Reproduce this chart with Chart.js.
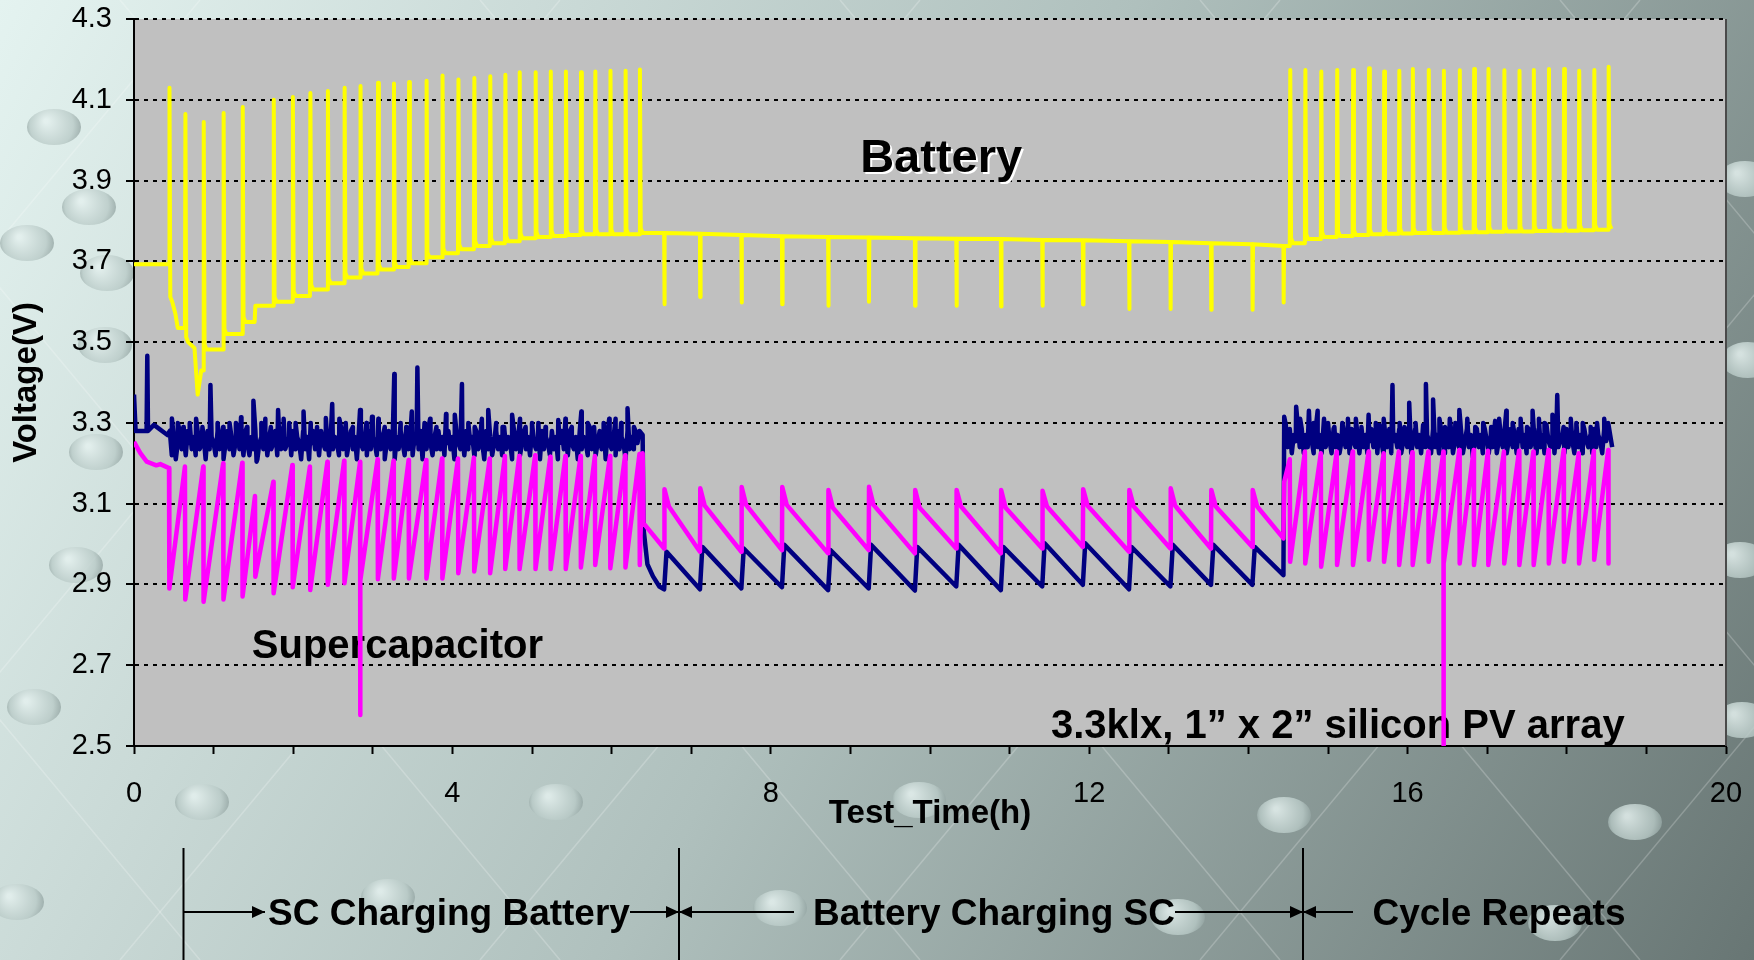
<!DOCTYPE html>
<html>
<head>
<meta charset="utf-8">
<title>Battery / supercapacitor voltage</title>
<script src="https://cdn.jsdelivr.net/npm/chart.js@4.4.1/dist/chart.umd.min.js"></script>
<style>
  html, body { margin: 0; padding: 0; background: #9aaaa8; overflow: hidden; }
  #wrap { width: 1754px; height: 960px; }
</style>
</head>
<body>
<div id="wrap"><canvas id="voltageChart" width="1754" height="960"></canvas></div>
<script>
// ---- axes
const xTickValues = [0, 1, 2, 3, 4, 5, 6, 7, 8, 9, 10, 11, 12, 13, 14, 15, 16, 17, 18, 19, 20];
const xLabelValues = [0, 4, 8, 12, 16, 20];
const yTickValues = [2.5, 2.7, 2.9, 3.1, 3.3, 3.5, 3.7, 3.9, 4.1, 4.3];

// ---- Battery (yellow)
const battStart = 3.693;
// phase 1: SC charging battery (pulses up)
const chgTimes1 = [0.44, 0.64, 0.87, 1.12, 1.36, 1.75, 1.99, 2.21, 2.43, 2.64, 2.84, 3.06, 3.26, 3.45, 3.67, 3.87, 4.07, 4.27, 4.47, 4.66, 4.84, 5.04, 5.23, 5.42, 5.61, 5.79, 5.98, 6.17, 6.35];
const battPeak1 = [4.13, 4.065, 4.045, 4.067, 4.082, 4.10, 4.107, 4.117, 4.122, 4.13, 4.134, 4.142, 4.14, 4.144, 4.147, 4.16, 4.15, 4.154, 4.158, 4.162, 4.168, 4.168, 4.17, 4.17, 4.168, 4.17, 4.172, 4.172, 4.175];
const battBase1 = [3.60, 3.50, 3.482, 3.52, 3.55, 3.60, 3.614, 3.63, 3.646, 3.66, 3.67, 3.68, 3.686, 3.695, 3.71, 3.72, 3.73, 3.738, 3.745, 3.75, 3.757, 3.76, 3.763, 3.765, 3.767, 3.767, 3.767, 3.767, 3.77];
const battExtra1 = [[0.52, 3.57], [0.55, 3.535], [0.76, 3.485], [0.80, 3.37], [0.845, 3.43], [1.515, 3.55], [1.525, 3.59]];
// phase 2: battery charging SC (pulses down)
const dchTimes = [6.66, 7.11, 7.63, 8.14, 8.72, 9.23, 9.81, 10.33, 10.89, 11.41, 11.92, 12.50, 13.02, 13.53, 14.05, 14.44];
const battLevel2 = [3.770, 3.768, 3.765, 3.762, 3.760, 3.759, 3.757, 3.756, 3.755, 3.753, 3.752, 3.750, 3.748, 3.745, 3.742, 3.738];
const battDip2 = [3.594, 3.612, 3.598, 3.594, 3.590, 3.600, 3.590, 3.590, 3.588, 3.590, 3.593, 3.582, 3.582, 3.580, 3.580, 3.598];
// phase 3: cycle repeats
const chgTimes3 = [14.52, 14.71, 14.91, 15.11, 15.31, 15.51, 15.70, 15.89, 16.06, 16.26, 16.45, 16.65, 16.83, 17.01, 17.21, 17.40, 17.58, 17.77, 17.96, 18.15, 18.34, 18.52];
const battPeak3 = [4.174, 4.174, 4.170, 4.174, 4.174, 4.178, 4.170, 4.172, 4.176, 4.174, 4.172, 4.173, 4.176, 4.176, 4.173, 4.172, 4.174, 4.176, 4.176, 4.172, 4.174, 4.182];
const battBase3 = [3.745, 3.755, 3.760, 3.763, 3.765, 3.767, 3.768, 3.769, 3.770, 3.770, 3.771, 3.772, 3.772, 3.773, 3.774, 3.774, 3.775, 3.776, 3.776, 3.777, 3.778, 3.780];
const battEnd = 18.56;

// ---- Supercapacitor, upper trace (navy)
const scHighStart = [[0, 3.37], [0.02, 3.28], [0.10, 3.28], [0.158, 3.28], [0.167, 3.466], [0.176, 3.28], [0.25, 3.295], [0.42, 3.27]];
const noiseStep = 0.025;
const scHighNoiseStart1 = 0.45;
const scHighNoise1 = [
  3.28, 3.22, 3.265, 3.21, 3.25, 3.28, 3.235, 3.265, 3.22, 3.28, 3.25, 3.235, 3.265, 3.22, 3.28, 3.235, 3.25, 3.265, 3.21, 3.28,
  3.235, 3.265, 3.25, 3.22, 3.28, 3.235, 3.265, 3.21, 3.25, 3.28, 3.235, 3.265, 3.22, 3.25, 3.29, 3.235, 3.265, 3.22, 3.28, 3.25,
  3.22, 3.265, 3.235, 3.28, 3.21, 3.25, 3.265, 3.235, 3.28, 3.22, 3.265, 3.235, 3.25, 3.28, 3.22, 3.265, 3.235, 3.29, 3.235, 3.25,
  3.265, 3.22, 3.28, 3.235, 3.265, 3.25, 3.21, 3.28, 3.235, 3.265, 3.21, 3.25, 3.28, 3.235, 3.265, 3.22, 3.28, 3.25, 3.235, 3.265,
  3.22, 3.28, 3.235, 3.265, 3.25, 3.22, 3.29, 3.235, 3.265, 3.22, 3.25, 3.28, 3.235, 3.265, 3.21, 3.28, 3.25, 3.235, 3.265, 3.22,
  3.28, 3.235, 3.265, 3.25, 3.22, 3.28, 3.235, 3.265, 3.21, 3.25, 3.28, 3.235, 3.265, 3.21, 3.265, 3.235, 3.28, 3.25, 3.22, 3.265,
  3.235, 3.28, 3.22, 3.265, 3.25, 3.235, 3.28, 3.21, 3.265, 3.235, 3.29, 3.25, 3.22, 3.265, 3.235, 3.28, 3.235, 3.265, 3.22, 3.25,
  3.28, 3.235, 3.265, 3.21, 3.28, 3.25, 3.235, 3.265, 3.22, 3.28, 3.235, 3.25, 3.265, 3.22, 3.28, 3.235, 3.265, 3.25, 3.21, 3.28,
  3.235, 3.265, 3.22, 3.25, 3.28, 3.235, 3.265, 3.22, 3.29, 3.235, 3.265, 3.25, 3.21, 3.28, 3.235, 3.265, 3.22, 3.25, 3.28, 3.235,
  3.265, 3.22, 3.28, 3.25, 3.235, 3.265, 3.21, 3.28, 3.235, 3.265, 3.25, 3.22, 3.28, 3.235, 3.265, 3.21, 3.25, 3.28, 3.235, 3.265,
  3.22, 3.28, 3.25, 3.235, 3.265, 3.21, 3.28, 3.235, 3.265, 3.25, 3.22, 3.29, 3.235, 3.265, 3.22, 3.25, 3.28, 3.235, 3.265, 3.21,
  3.28, 3.25, 3.235, 3.265, 3.22, 3.28, 3.235, 3.265, 3.25, 3.21, 3.28, 3.235, 3.265, 3.235, 3.28, 3.25, 3.28
];
const scHighSpikes1 = [[0.476, 3.311], [0.55, 3.30], [0.62, 3.29], [0.70, 3.30], [0.78, 3.31], [0.86, 3.29], [0.96, 3.394],
  [1.05, 3.30], [1.12, 3.29], [1.20, 3.30], [1.28, 3.30], [1.345, 3.314], [1.42, 3.29], [1.50, 3.355], [1.54, 3.204],
  [1.60, 3.30], [1.65, 3.31], [1.72, 3.29], [1.81, 3.332], [1.88, 3.31], [1.95, 3.30], [2.03, 3.30], [2.13, 3.328],
  [2.22, 3.30], [2.30, 3.29], [2.41, 3.312], [2.49, 3.347], [2.58, 3.31], [2.66, 3.30], [2.75, 3.29], [2.84, 3.332],
  [2.92, 3.30], [2.99, 3.315], [3.07, 3.31], [3.15, 3.29], [3.27, 3.421], [3.35, 3.30], [3.42, 3.29], [3.49, 3.328],
  [3.56, 3.437], [3.65, 3.30], [3.72, 3.31], [3.80, 3.29], [3.92, 3.322], [4.03, 3.32], [4.12, 3.396], [4.20, 3.30],
  [4.28, 3.29], [4.37, 3.31], [4.45, 3.332], [4.55, 3.30], [4.63, 3.29], [4.75, 3.32], [4.85, 3.31], [4.92, 3.29],
  [5.0, 3.30], [5.08, 3.30], [5.17, 3.29], [5.33, 3.307], [5.42, 3.31], [5.50, 3.29], [5.62, 3.328], [5.70, 3.30],
  [5.78, 3.29], [5.9, 3.30], [5.97, 3.31], [6.05, 3.31], [6.12, 3.30], [6.20, 3.336], [6.28, 3.29]];
const scHighDrop = [[6.39, 3.27], [6.40, 3.04], [6.45, 2.95], [6.52, 2.92], [6.60, 2.895]];
const scHighPeak2 = [2.981, 2.993, 2.989, 2.998, 2.985, 2.998, 2.993, 2.998, 2.993, 3.002, 3.002, 2.993, 2.998, 2.998, 2.993];
const scHighTrough2 = [2.888, 2.888, 2.890, 2.893, 2.886, 2.890, 2.885, 2.895, 2.886, 2.895, 2.899, 2.888, 2.895, 2.899, 2.899, 2.923];
const scHighRecover = [14.45, 3.315];
const scHighNoiseStart3 = 14.47;
const scHighNoise3 = [
  3.295, 3.24, 3.285, 3.225, 3.27, 3.255, 3.295, 3.24, 3.285, 3.225, 3.27, 3.24, 3.285, 3.255, 3.225, 3.285, 3.24, 3.27, 3.225, 3.295,
  3.24, 3.27, 3.255, 3.225, 3.285, 3.24, 3.27, 3.225, 3.255, 3.285, 3.24, 3.27, 3.225, 3.285, 3.255, 3.24, 3.27, 3.225, 3.285, 3.24,
  3.27, 3.225, 3.255, 3.285, 3.24, 3.27, 3.225, 3.295, 3.255, 3.225, 3.27, 3.24, 3.285, 3.225, 3.255, 3.27, 3.24, 3.285, 3.225, 3.255,
  3.285, 3.24, 3.27, 3.225, 3.255, 3.285, 3.24, 3.27, 3.225, 3.295, 3.24, 3.27, 3.255, 3.225, 3.285, 3.24, 3.27, 3.225, 3.285, 3.255,
  3.225, 3.27, 3.24, 3.285, 3.225, 3.255, 3.27, 3.24, 3.285, 3.225, 3.255, 3.285, 3.24, 3.27, 3.215, 3.255, 3.285, 3.24, 3.27, 3.225,
  3.285, 3.255, 3.225, 3.27, 3.24, 3.295, 3.225, 3.255, 3.27, 3.24, 3.285, 3.225, 3.255, 3.285, 3.24, 3.27, 3.225, 3.285, 3.255, 3.24,
  3.27, 3.225, 3.285, 3.24, 3.27, 3.255, 3.225, 3.285, 3.24, 3.27, 3.225, 3.295, 3.255, 3.24, 3.27, 3.225, 3.285, 3.24, 3.255, 3.27,
  3.225, 3.285, 3.24, 3.27, 3.255, 3.225, 3.285, 3.24, 3.27, 3.225, 3.285, 3.255, 3.24, 3.27, 3.225, 3.285, 3.24, 3.27, 3.255, 3.225,
  3.285, 3.255, 3.285, 3.27, 3.24
];
const scHighSpikes3 = [[14.60, 3.34], [14.65, 3.31], [14.76, 3.33], [14.82, 3.30], [14.87, 3.33], [14.95, 3.31], [15.0, 3.30],
  [15.08, 3.29], [15.18, 3.30], [15.25, 3.31], [15.35, 3.31], [15.42, 3.29], [15.51, 3.32], [15.60, 3.30], [15.70, 3.31],
  [15.81, 3.394], [15.90, 3.30], [15.96, 3.29], [16.02, 3.35], [16.10, 3.30], [16.23, 3.396], [16.32, 3.358], [16.40, 3.31],
  [16.47, 3.29], [16.53, 3.31], [16.60, 3.30], [16.65, 3.332], [16.75, 3.31], [16.85, 3.29], [16.95, 3.30], [17.05, 3.29],
  [17.1, 3.305], [17.15, 3.31], [17.24, 3.33], [17.32, 3.30], [17.42, 3.31], [17.50, 3.29], [17.57, 3.33], [17.65, 3.31],
  [17.72, 3.30], [17.82, 3.32], [17.88, 3.369], [17.96, 3.29], [18.05, 3.31], [18.12, 3.30], [18.2, 3.30], [18.30, 3.29],
  [18.38, 3.30], [18.47, 3.31], [18.52, 3.30]];

// ---- Supercapacitor, lower trace (magenta)
const scLowStart = [[0, 3.253], [0.08, 3.225], [0.16, 3.204], [0.28, 3.195], [0.33, 3.198]];
const scLowTimes1 = [0.44, 0.64, 0.87, 1.12, 1.36, 1.52, 1.75, 1.99, 2.21, 2.43, 2.64, 2.84, 3.06, 3.26, 3.45, 3.67, 3.87, 4.07, 4.27, 4.47, 4.66, 4.84, 5.04, 5.23, 5.42, 5.61, 5.79, 5.98, 6.17, 6.35];
const scLowPeak1 = [3.188, 3.192, 3.192, 3.200, 3.201, 3.119, 3.154, 3.196, 3.192, 3.204, 3.206, 3.204, 3.210, 3.206, 3.208, 3.208, 3.212, 3.212, 3.214, 3.212, 3.218, 3.218, 3.220, 3.216, 3.218, 3.218, 3.218, 3.218, 3.220, 3.223];
const scLowTrough1 = [2.890, 2.863, 2.857, 2.863, 2.870, 2.919, 2.878, 2.893, 2.886, 2.899, 2.903, 2.910, 2.913, 2.915, 2.915, 2.915, 2.915, 2.928, 2.932, 2.928, 2.938, 2.938, 2.938, 2.938, 2.938, 2.942, 2.948, 2.940, 2.942, 2.948];
const scLowBridge12 = [[6.39, 3.225], [6.40, 3.052]];
const scLowTrough2 = [2.989, 2.981, 2.981, 2.985, 2.977, 2.985, 2.977, 2.989, 2.977, 2.989, 2.993, 2.981, 2.989, 2.989, 2.993, 3.014];
const scLowPeak2 = [3.136, 3.138, 3.141, 3.141, 3.134, 3.142, 3.134, 3.134, 3.134, 3.132, 3.136, 3.134, 3.138, 3.134, 3.134];
const scLowKnee2 = [3.093, 3.095, 3.097, 3.097, 3.090, 3.097, 3.090, 3.093, 3.090, 3.093, 3.095, 3.093, 3.095, 3.093, 3.093];
const scLowBridge23 = [[14.45, 3.154]];
const scLowPeak3 = [3.21, 3.229, 3.225, 3.229, 3.229, 3.229, 3.225, 3.229, 3.227, 3.229, 3.229, 3.233, 3.233, 3.231, 3.229, 3.231, 3.229, 3.233, 3.233, 3.225, 3.231, 3.233];
const scLowTrough3 = [2.956, 2.952, 2.944, 2.948, 2.948, 2.961, 2.956, 2.948, 2.948, 2.956, 2.952, 2.952, 2.948, 2.948, 2.952, 2.948, 2.948, 2.952, 2.956, 2.952, 2.961, 2.952];
const scLowDips = [[2.84, 2.577], [16.45, 2.50]];

// ---- build polylines
function pt(x, y) { return { x: x, y: y }; }
const byX = (a, b) => a.x - b.x;

function buildBattery() {
  const pts = [pt(0, battStart)];
  let level = battStart;
  const chargePhase = (times, peaks, bases, extras) => {
    times.forEach((t, i) => {
      pts.push(pt(t, level));
      pts.push(pt(t + 0.006, peaks[i]));
      pts.push(pt(t + 0.016, bases[i] + 0.012));
      pts.push(pt(t + 0.04, bases[i]));
      level = bases[i];
      const next = i + 1 < times.length ? times[i + 1] : Infinity;
      extras.filter(e => e[0] > t + 0.04 && e[0] < next).forEach(e => {
        pts.push(pt(e[0], e[1]));
        level = e[1];
      });
    });
  };
  chargePhase(chgTimes1, battPeak1, battBase1, battExtra1);
  dchTimes.forEach((t, i) => {
    pts.push(pt(t, battLevel2[i]));
    pts.push(pt(t + 0.003, battDip2[i]));
    pts.push(pt(t + 0.008, battLevel2[i]));
    level = battLevel2[i];
  });
  chargePhase(chgTimes3, battPeak3, battBase3, []);
  pts.push(pt(battEnd, level));
  return pts;
}

function buildScHigh() {
  let part = scHighStart.map(p => pt(p[0], p[1]));
  scHighNoise1.forEach((v, i) => part.push(pt(scHighNoiseStart1 + i * noiseStep, v)));
  scHighSpikes1.forEach(p => part.push(pt(p[0], p[1])));
  const pts = part.sort(byX);
  scHighDrop.forEach(p => pts.push(pt(p[0], p[1])));
  dchTimes.forEach((t, i) => {
    pts.push(pt(t, scHighTrough2[i]));
    if (i < scHighPeak2.length) pts.push(pt(t + 0.03, scHighPeak2[i]));
  });
  pts.push(pt(scHighRecover[0], scHighRecover[1]));
  part = [];
  scHighNoise3.forEach((v, i) => part.push(pt(scHighNoiseStart3 + i * noiseStep, v)));
  scHighSpikes3.forEach(p => part.push(pt(p[0], p[1])));
  return pts.concat(part.sort(byX));
}

function buildScLow() {
  const pts = scLowStart.map(p => pt(p[0], p[1]));
  const sawtooth = (times, peaks, troughs) => {
    times.forEach((t, i) => {
      pts.push(pt(t, peaks[i]));
      const dip = scLowDips.find(d => Math.abs(d[0] - t) < 0.03);
      if (dip) pts.push(pt(t + 0.002, dip[1]));
      pts.push(pt(t + 0.004, troughs[i]));
    });
  };
  sawtooth(scLowTimes1, scLowPeak1, scLowTrough1);
  scLowBridge12.forEach(p => pts.push(pt(p[0], p[1])));
  dchTimes.forEach((t, i) => {
    pts.push(pt(t, scLowTrough2[i]));
    if (i < scLowPeak2.length) {
      pts.push(pt(t + 0.004, scLowPeak2[i]));
      pts.push(pt(t + 0.06, scLowKnee2[i]));
    }
  });
  scLowBridge23.forEach(p => pts.push(pt(p[0], p[1])));
  sawtooth(chgTimes3, scLowPeak3, scLowTrough3);
  return pts;
}

// ---- decoration (slide background, labels)
const pearls = [[54, 127], [89, 207], [27, 243], [107, 273], [105, 345], [96, 452], [76, 565], [34, 707],
  [202, 802], [556, 802], [919, 800], [1284, 815], [1635, 822], [17, 902], [388, 897], [780, 908], [1178, 917], [1555, 923],
  [1745, 179], [1748, 360], [1740, 560], [1742, 720]];

function drawArrow(ctx, x1, x2, y, headAt) {
  ctx.beginPath();
  ctx.moveTo(x1, y);
  ctx.lineTo(x2, y);
  ctx.stroke();
  const tip = headAt === 'end' ? x2 : x1;
  const dir = headAt === 'end' ? -1 : 1;
  ctx.beginPath();
  ctx.moveTo(tip, y);
  ctx.lineTo(tip + dir * 13, y - 6);
  ctx.lineTo(tip + dir * 13, y + 6);
  ctx.closePath();
  ctx.fill();
}

const slidePlugin = {
  id: 'slide',
  beforeDraw(chart) {
    const { ctx, width, height, chartArea: a } = chart;
    ctx.save();
    const g = ctx.createLinearGradient(0, 0, width, height);
    g.addColorStop(0, '#e4f3f0');
    g.addColorStop(0.5, '#afc0bd');
    g.addColorStop(1, '#687674');
    ctx.fillStyle = g;
    ctx.fillRect(0, 0, width, height);

    // faint lattice
    ctx.strokeStyle = 'rgba(255,255,255,0.22)';
    ctx.lineWidth = 1.5;
    for (let k = -4; k < 9; k++) {
      const x0 = k * 360 + 120;
      ctx.beginPath(); ctx.moveTo(x0, 0); ctx.lineTo(x0 + 800, 960); ctx.stroke();
      ctx.beginPath(); ctx.moveTo(x0 + 800, 0); ctx.lineTo(x0, 960); ctx.stroke();
    }

    pearls.forEach(p => {
      const rg = ctx.createRadialGradient(p[0] - 8, p[1] - 6, 2, p[0], p[1], 30);
      rg.addColorStop(0, 'rgba(228,240,238,0.85)');
      rg.addColorStop(0.7, 'rgba(185,202,199,0.8)');
      rg.addColorStop(1, 'rgba(135,152,150,0.8)');
      ctx.fillStyle = rg;
      ctx.beginPath();
      ctx.ellipse(p[0], p[1], 27, 18, 0, 0, Math.PI * 2);
      ctx.fill();
    });

    ctx.fillStyle = '#c0c0c0';
    ctx.fillRect(a.left, a.top, a.right - a.left, a.bottom - a.top);
    ctx.restore();
  },
  beforeDatasetsDraw(chart) {
    const { ctx, scales: { x, y } } = chart;
    ctx.save();
    ctx.textBaseline = 'alphabetic';
    ctx.font = 'bold 47px "Liberation Sans", Arial, sans-serif';
    ctx.textAlign = 'center';
    ctx.fillStyle = '#ffffff';
    ctx.fillText('Battery', x.getPixelForValue(10.14) + 2, y.getPixelForValue(3.921) + 2);
    ctx.fillStyle = '#000000';
    ctx.fillText('Battery', x.getPixelForValue(10.14), y.getPixelForValue(3.921));

    ctx.font = 'bold 40px "Liberation Sans", Arial, sans-serif';
    ctx.textAlign = 'left';
    ctx.fillText('Supercapacitor', x.getPixelForValue(1.48), y.getPixelForValue(2.718));
    ctx.fillText('3.3klx, 1\u201D x 2\u201D silicon PV array', x.getPixelForValue(11.52), y.getPixelForValue(2.52));
    ctx.restore();
  },
  afterDraw(chart) {
    const { ctx, chartArea: a } = chart;
    ctx.save();
    // right frame edge
    ctx.strokeStyle = '#4a4a4a';
    ctx.lineWidth = 2;
    ctx.beginPath(); ctx.moveTo(a.right, a.top); ctx.lineTo(a.right, a.bottom); ctx.stroke();

    ctx.fillStyle = '#000000';
    ctx.font = 'bold 33px "Liberation Sans", Arial, sans-serif';
    ctx.textAlign = 'center';
    ctx.fillText('Test_Time(h)', (a.left + a.right) / 2, 823);
    ctx.save();
    ctx.translate(36, (a.top + a.bottom) / 2);
    ctx.rotate(-Math.PI / 2);
    ctx.fillText('Voltage(V)', 0, 0);
    ctx.restore();

    // phase separators and arrows
    ctx.strokeStyle = '#000000';
    ctx.lineWidth = 2;
    [183.5, 679, 1303].forEach(px => {
      ctx.beginPath(); ctx.moveTo(px, 848); ctx.lineTo(px, 960); ctx.stroke();
    });
    const ay = 912;
    drawArrow(ctx, 183, 265, ay, 'end');
    drawArrow(ctx, 630, 679, ay, 'end');
    drawArrow(ctx, 679, 794, ay, 'start');
    drawArrow(ctx, 1175, 1303, ay, 'end');
    drawArrow(ctx, 1303, 1353, ay, 'start');

    ctx.font = 'bold 37px "Liberation Sans", Arial, sans-serif';
    ctx.textAlign = 'center';
    ctx.fillText('SC Charging Battery', 449, 925);
    ctx.fillText('Battery Charging SC', 994, 925);
    ctx.fillText('Cycle Repeats', 1499, 925);
    ctx.restore();
  }
};

const lineStyle = { pointRadius: 0, tension: 0, fill: false, borderJoinStyle: 'round' };

new Chart(document.getElementById('voltageChart').getContext('2d'), {
  type: 'line',
  data: {
    datasets: [
      Object.assign({ label: 'Battery', data: buildBattery(), borderColor: '#ffff00', borderWidth: 4, order: 3 }, lineStyle),
      Object.assign({ label: 'Supercapacitor', data: buildScHigh(), borderColor: '#000080', borderWidth: 4.5, order: 2 }, lineStyle),
      Object.assign({ label: 'Supercapacitor (load side)', data: buildScLow(), borderColor: '#ff00ff', borderWidth: 4.5, order: 1 }, lineStyle)
    ]
  },
  options: {
    responsive: false,
    devicePixelRatio: 1,
    animation: false,
    layout: { padding: { top: 19, right: 28, left: 0, bottom: 0 } },
    plugins: { legend: { display: false }, tooltip: { enabled: false } },
    scales: {
      x: {
        type: 'linear',
        min: 0,
        max: 20,
        afterBuildTicks: s => { s.ticks = xTickValues.map(v => ({ value: v })); },
        afterFit: s => { s.height = 214; s.paddingLeft = 0; s.paddingRight = 0; },
        ticks: {
          autoSkip: false,
          maxRotation: 0,
          padding: 23,
          color: '#000000',
          font: { family: '"Liberation Sans", Arial, sans-serif', size: 29 },
          callback: v => (xLabelValues.includes(v) ? String(v) : '')
        },
        grid: { drawOnChartArea: false, drawTicks: true, tickLength: 8, tickColor: '#000000', tickWidth: 2 },
        border: { color: '#000000', width: 2 }
      },
      y: {
        type: 'linear',
        min: 2.5,
        max: 4.3,
        afterBuildTicks: s => { s.ticks = yTickValues.map(v => ({ value: v })); },
        afterFit: s => { s.width = 134; s.paddingTop = 0; s.paddingBottom = 0; },
        ticks: {
          padding: 14,
          color: '#000000',
          font: { family: '"Liberation Sans", Arial, sans-serif', size: 29 },
          callback: v => v.toFixed(1)
        },
        grid: { color: '#000000', lineWidth: 2, tickLength: 8, tickColor: '#000000', tickWidth: 2, tickBorderDash: [] },
        border: { color: '#000000', width: 2, dash: [4, 5] }
      }
    }
  },
  plugins: [slidePlugin]
});
</script>
</body>
</html>
